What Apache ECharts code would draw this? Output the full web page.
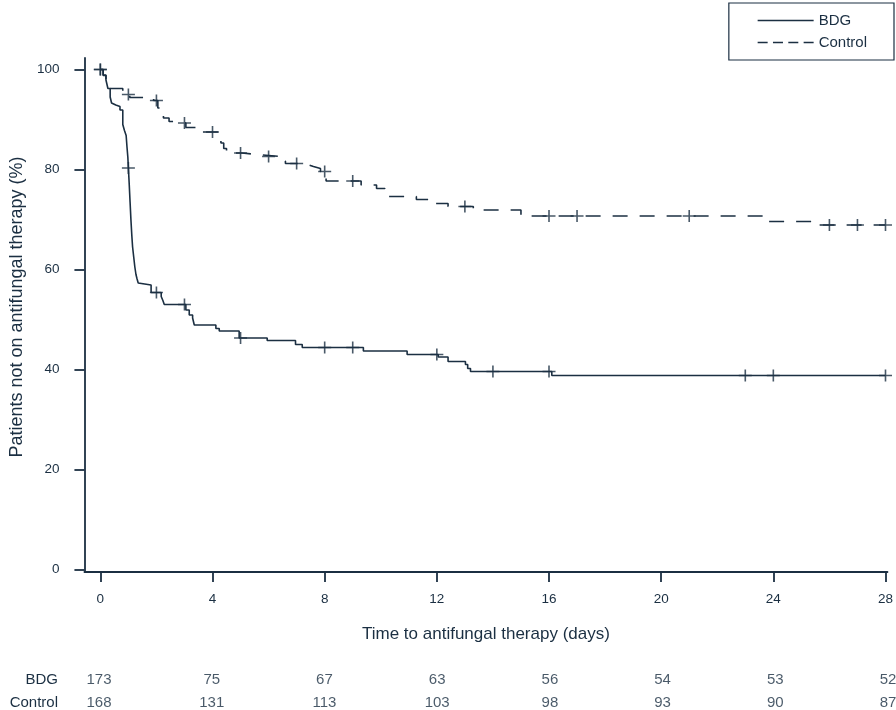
<!DOCTYPE html>
<html>
<head>
<meta charset="utf-8">
<script src="https://cdn.jsdelivr.net/npm/echarts@6/dist/echarts.min.js"></script>
<style>html,body{margin:0;padding:0;background:#fff}#c{width:896px;height:710px}</style>
</head>
<body>
<div id="c"></div>
<script>
// ---- data ----
const seriesNames = ['BDG', 'Control'];
const timeTicks = [0, 4, 8, 12, 16, 20, 24, 28];
const percentTicks = [0, 20, 40, 60, 80, 100];

const bdgTimes = [0, 0.1, 0.2, 0.27, 0.35, 0.4, 0.45, 0.55, 0.7, 0.8, 0.86, 0.92, 0.95, 0.98, 1.0, 1.03, 1.06, 1.09, 1.12, 1.15, 1.19, 1.23, 1.27, 1.31, 1.35, 1.4, 1.81, 2.17, 2.23, 2.28, 3.05, 3.17, 3.29, 3.35, 4.12, 4.24, 4.95, 5.95, 6.96, 7.2, 9.38, 10.94, 12.05, 12.4, 13.02, 13.1, 13.2, 16.1, 28];
const bdgSurvival = [100, 98.9, 97.9, 96.2, 94.5, 93.3, 92.9, 92.6, 91.9, 89.0, 87.8, 86.8, 84.5, 82.5, 80.3, 77, 73.5, 70, 67, 64.5, 62.5, 60.5, 59, 58.1, 57.3, 56.9, 55.4, 54.6, 53.8, 53.0, 51.9, 50.9, 50.3, 48.9, 48.2, 47.7, 46.3, 45.8, 45.0, 44.4, 43.7, 43.0, 42.5, 41.6, 41.0, 40.2, 39.6, 38.8, 38.8];

const controlTimes = [0, 0.1, 0.2, 0.27, 0.8, 1.05, 1.9, 2.05, 2.25, 2.45, 2.6, 3.05, 3.65, 4.2, 4.3, 4.4, 4.5, 5.05, 5.6, 6.45, 6.6, 7.05, 7.4, 7.6, 7.85, 8.05, 9.3, 9.85, 10.15, 10.25, 11.27, 11.97, 12.4, 13.3, 15.0, 23.7, 25.6, 28];
const controlSurvival = [100, 98.8, 97.6, 96.2, 95.0, 94.4, 93.8, 92.3, 90.3, 89.6, 89.3, 88.4, 87.5, 86.3, 85.3, 84.2, 83.3, 83.0, 82.6, 81.7, 81.2, 81.0, 80.6, 80.2, 79.6, 77.7, 76.9, 76.2, 75.2, 74.6, 74.0, 73.2, 72.6, 71.9, 70.7, 69.6, 68.9, 68.9];

const bdgCensorTimes = [0, 1, 2, 3, 5, 8, 9, 12, 14, 16, 23, 24, 28];
const bdgCensorSurvival = [100, 80.3, 55.4, 53.0, 46.3, 44.4, 44.4, 43.0, 39.6, 39.6, 38.8, 38.8, 38.8];
const controlCensorTimes = [0, 1, 2, 3, 4, 5, 6, 7, 8, 9, 13, 16, 17, 21, 26, 27, 28];
const controlCensorSurvival = [100, 95.0, 93.8, 89.3, 87.5, 83.3, 82.6, 81.2, 79.6, 77.7, 72.6, 70.7, 70.7, 70.7, 68.9, 68.9, 68.9];

const riskBDG = [173, 75, 67, 63, 56, 54, 53, 52];
const riskControl = [168, 131, 113, 103, 98, 93, 90, 87];

// ---- styling ----
const INK = '#1b2f42';
const FONT = '"Liberation Sans", Arial, Helvetica, sans-serif';
const PLUS = 'path://M5.7,0H7.3V5.2H13V6.8H7.3V12H5.7V6.8H0V5.2H5.7Z';
const zip = (a, b) => a.map((v, i) => [v, b[i]]);

const riskData = [];
timeTicks.forEach((t, i) => {
  riskData.push([t, 0, riskBDG[i]]);
  riskData.push([t, 1, riskControl[i]]);
});

const chart = echarts.init(document.getElementById('c'), null, {renderer: 'canvas'});
chart.setOption({
  animation: false,
  backgroundColor: '#fff',
  textStyle: {fontFamily: FONT, color: INK},
  grid: [
    {left: 83, right: 6, top: 58, bottom: 138},
    {left: 83, right: 6, top: 680, height: 23}
  ],
  xAxis: [
    {
      gridIndex: 0, type: 'value', min: -0.568, max: 28.07,
      axisLine: {show: true, onZero: false, lineStyle: {color: INK, width: 1.8}},
      axisTick: {show: true, customValues: timeTicks, length: 10, lineStyle: {color: INK, width: 1.8}},
      axisLabel: {customValues: timeTicks, margin: 20, fontSize: 13.5, color: INK, fontFamily: FONT},
      splitLine: {show: false},
      name: 'Time to antifungal therapy (days)', nameLocation: 'middle', nameGap: 54,
      nameTextStyle: {fontSize: 17, color: INK, fontFamily: FONT}
    },
    {gridIndex: 1, type: 'value', min: -0.568, max: 28.07, show: false}
  ],
  yAxis: [
    {
      gridIndex: 0, type: 'value', min: -0.5, max: 102.3,
      axisLine: {show: true, onZero: false, lineStyle: {color: INK, width: 1.8}},
      axisTick: {show: true, customValues: percentTicks, length: 10, lineStyle: {color: INK, width: 1.8}},
      axisLabel: {customValues: percentTicks, margin: 25, fontSize: 13.5, color: INK, fontFamily: FONT},
      splitLine: {show: false},
      name: 'Patients not on antifungal therapy (%)', nameLocation: 'middle', nameGap: 55, nameRotate: 90,
      nameTextStyle: {fontSize: 18, color: INK, fontFamily: FONT, padding: [0, 0, 0, 16]}
    },
    {
      gridIndex: 1, type: 'category', data: seriesNames, inverse: true, boundaryGap: false,
      axisLine: {show: false}, axisTick: {show: false}, splitLine: {show: false},
      axisLabel: {margin: 25, fontSize: 15, color: INK, fontFamily: FONT}
    }
  ],
  legend: {
    orient: 'vertical', right: 2, top: 3,
    padding: [10, 27, 10, 28],
    itemWidth: 56, itemHeight: 14, itemGap: 7,
    borderColor: INK, borderWidth: 1.2,
    textStyle: {fontSize: 15, color: INK, fontFamily: FONT},
    itemStyle: {opacity: 0},
    data: [
      {name: 'BDG', lineStyle: {type: 'solid', width: 1.6, color: INK}},
      {name: 'Control', lineStyle: {type: [10, 5.33], width: 1.6, color: INK}}
    ]
  },
  series: [
    {
      name: 'BDG', type: 'line', step: 'end', symbol: 'none',
      data: zip(bdgTimes, bdgSurvival),
      lineStyle: {color: INK, width: 1.6}, itemStyle: {color: INK}
    },
    {
      name: 'Control', type: 'line', step: 'end', symbol: 'none',
      data: zip(controlTimes, controlSurvival),
      lineStyle: {color: INK, width: 1.6, type: [15, 12]}, itemStyle: {color: INK}
    },
    {
      type: 'scatter', symbol: PLUS, symbolSize: [13, 12], silent: true,
      data: zip(bdgCensorTimes, bdgCensorSurvival), itemStyle: {color: INK}
    },
    {
      type: 'scatter', symbol: PLUS, symbolSize: [13, 12], silent: true,
      data: zip(controlCensorTimes, controlCensorSurvival), itemStyle: {color: INK}
    },
    {
      type: 'scatter', xAxisIndex: 1, yAxisIndex: 1, symbolSize: 1, silent: true,
      data: riskData, itemStyle: {color: 'rgba(0,0,0,0)'},
      label: {show: true, position: 'inside', formatter: p => String(p.value[2]),
        fontSize: 15, color: INK, fontFamily: FONT}
    }
  ]
});
</script>
</body>
</html>
